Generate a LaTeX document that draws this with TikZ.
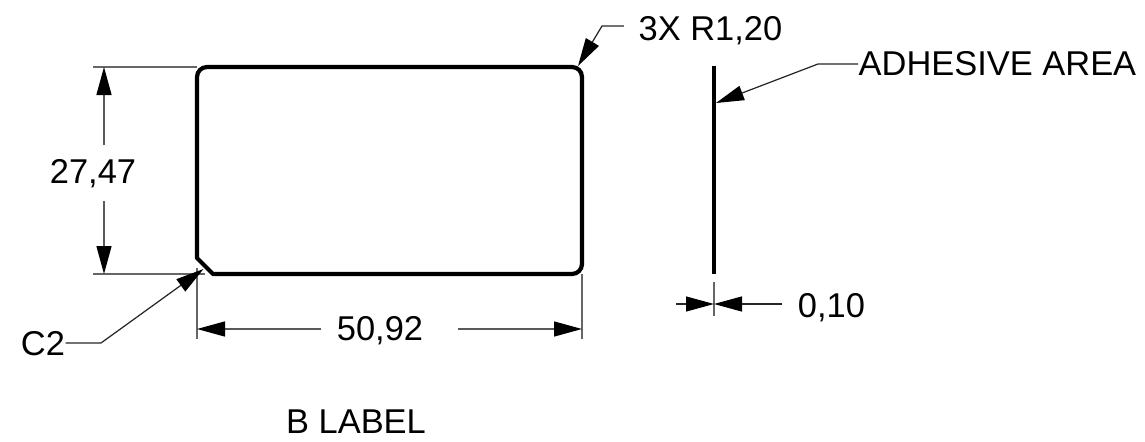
\documentclass[tikz,border=0pt]{standalone}
\usepackage{fontspec}
\setmainfont{Liberation Sans}
\usetikzlibrary{arrows.meta,positioning}
\tikzset{
  outline/.style={line width=1.2pt,line join=round},
  extline/.style={line width=0.4pt,black!60},
  dimline/.style={line width=0.4pt,black!65,-{Triangle[length=0.28cm,width=0.15cm,black]}},
  leader/.style={line width=0.35pt,black!85,-{Triangle[length=0.28cm,width=0.15cm,black]}},
  dimtext/.style={inner sep=0pt,font=\fontsize{9.8}{12}\selectfont}
}
\begin{document}
\begin{tikzpicture}[scale=1.0]
  \useasboundingbox (0.0,0.0) rectangle (11.45,4.41);

  \node[dimtext] (height) at (0.93,2.67) {27,47};            %Height value
  \node[dimtext] (width) at (3.80,1.10) {50,92};             %Width value
  \node[dimtext] (chamfer) at (0.43,0.97) {C2};              %Chamfer note
  \node[dimtext] (radius) at (7.105,4.10) {3X R1,20};        %Radius note
  \node[dimtext,anchor=west] (adhesive) at (8.58,3.77) {ADHESIVE AREA};
  \node[dimtext] (thick) at (8.315,1.33) {0,10};             %Thickness value
  \node[dimtext] (title) at (3.56,0.19) {B LABEL};

  \coordinate (heighttop) at (1.04,3.74);
  \coordinate (heightbot) at (1.04,1.67);
  \coordinate (widthleft) at (1.97,1.12);
  \coordinate (widthright) at (5.82,1.12);
  \coordinate (chamferknee) at (1.01,0.98);
  \coordinate (chamfertip) at (2.035,1.72);
  \coordinate (radiusknee) at (6.02,4.15);
  \coordinate (radiustip) at (5.78,3.75);
  \coordinate (adhesiveknee) at (8.18,3.77);
  \coordinate (adhesivetip) at (7.16,3.38);
  \coordinate (thickleft) at (6.76,1.37);
  \coordinate (thickmid) at (7.14,1.37);

  % Label outline, side view
  \draw[outline] (1.97,1.83) -- (2.13,1.67) -- (5.72,1.67)
    arc (-90:0:0.1) -- (5.82,3.64) arc (0:90:0.1) -- (2.07,3.74)
    arc (90:180:0.1) -- cycle;
  \draw[outline,line width=1.35pt] (7.14,3.75) -- (7.14,1.67);

  % Extension lines
  \draw[extline] (0.93,3.74) -- (1.97,3.74);
  \draw[extline] (0.93,1.67) -- (2.05,1.67);
  \draw[extline] (1.97,1.73) -- (1.97,1.02);
  \draw[extline] (5.82,1.67) -- (5.82,1.02);
  \draw[extline] (7.14,1.59) -- (7.14,1.25);

  % Dimensions
  \draw[dimline] (height.north -| heighttop) ++(0,0.14) -- (heighttop);
  \draw[dimline] (height.south -| heightbot) ++(0,-0.12) -- (heightbot);
  \draw[dimline] (width.west |- widthleft) ++(-0.15,0) -- (widthleft);
  \draw[dimline] (width.east |- widthright) ++(0.34,0) -- (widthright);

  % Leaders
  \draw[leader] (chamfer.east |- chamferknee) -- (chamferknee) -- (chamfertip);
  \draw[leader] (radius.west |- radiusknee) ++(-0.14,0) -- (radiusknee) -- (radiustip);
  \draw[leader] (adhesive.west |- adhesiveknee) -- (adhesiveknee) -- (adhesivetip);
  \draw[leader] (thickleft) -- (thickmid);
  \draw[leader] (thick.west |- thickmid) ++(-0.15,0) -- (thickmid);
\end{tikzpicture}
\end{document}
